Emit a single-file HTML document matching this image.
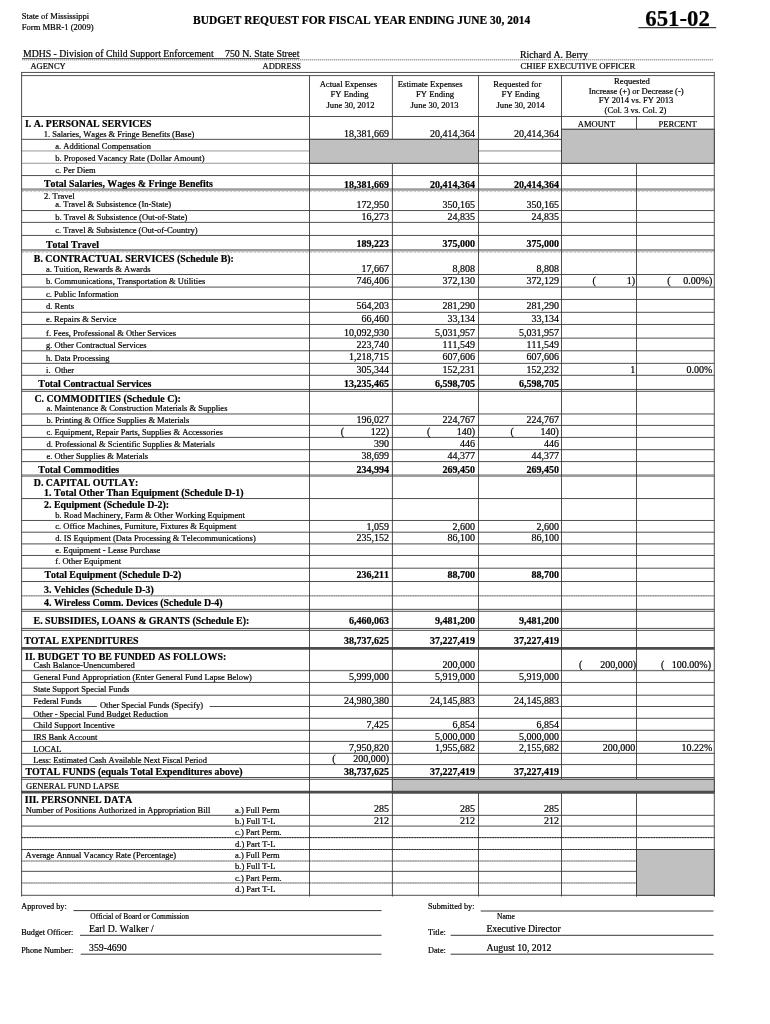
<!DOCTYPE html>
<html><head><meta charset="utf-8"><title>Budget Request</title>
<style>
html,body{margin:0;padding:0;background:#fff;}
#pg{will-change:transform;position:relative;width:770px;height:1024px;overflow:hidden;background:#fff;font-family:"Liberation Serif",serif;color:#111;}
#pg svg{position:absolute;left:0;top:0;}
#pg span{position:absolute;white-space:pre;line-height:1;font-kerning:none;-webkit-text-stroke:0.2px #000;color:#000;}
</style></head><body>
<div id="pg">
<svg width="770" height="1024" viewBox="0 0 770 1024">
<line x1="21.6" y1="72.45" x2="714.3" y2="72.45" stroke="#383838" stroke-width="0.88"/>
<line x1="21.6" y1="75.58" x2="714.3" y2="75.58" stroke="#383838" stroke-width="0.88"/>
<line x1="21.6" y1="116.5" x2="714.3" y2="116.5" stroke="#383838" stroke-width="0.88"/>
<line x1="21.6" y1="139.33" x2="714.3" y2="139.33" stroke="#383838" stroke-width="0.88"/>
<line x1="21.6" y1="175.55" x2="714.3" y2="175.55" stroke="#383838" stroke-width="0.88"/>
<line x1="21.6" y1="189.5" x2="714.3" y2="189.5" stroke="#9c9c9c" stroke-width="2.4"/>
<line x1="21.6" y1="191.6" x2="714.3" y2="191.6" stroke="#b4b4b4" stroke-width="0.7" stroke-dasharray="2.5 1.5"/>
<line x1="21.6" y1="210.55" x2="714.3" y2="210.55" stroke="#383838" stroke-width="0.88"/>
<line x1="21.6" y1="222.39" x2="714.3" y2="222.39" stroke="#383838" stroke-width="0.88"/>
<line x1="21.6" y1="235.44" x2="714.3" y2="235.44" stroke="#383838" stroke-width="0.88"/>
<line x1="21.6" y1="250.3" x2="714.3" y2="250.3" stroke="#9c9c9c" stroke-width="2.4"/>
<line x1="21.6" y1="252.4" x2="714.3" y2="252.4" stroke="#b4b4b4" stroke-width="0.7" stroke-dasharray="2.5 1.5"/>
<line x1="21.6" y1="274.5" x2="714.3" y2="274.5" stroke="#383838" stroke-width="0.88"/>
<line x1="21.6" y1="287.1" x2="714.3" y2="287.1" stroke="#383838" stroke-width="0.88"/>
<line x1="21.6" y1="299.45" x2="714.3" y2="299.45" stroke="#383838" stroke-width="0.88"/>
<line x1="21.6" y1="312.3" x2="714.3" y2="312.3" stroke="#383838" stroke-width="0.88"/>
<line x1="21.6" y1="324.47" x2="714.3" y2="324.47" stroke="#383838" stroke-width="0.88"/>
<line x1="21.6" y1="338.14" x2="714.3" y2="338.14" stroke="#383838" stroke-width="0.88"/>
<line x1="21.6" y1="350.8" x2="714.3" y2="350.8" stroke="#383838" stroke-width="0.88"/>
<line x1="21.6" y1="363.35" x2="714.3" y2="363.35" stroke="#383838" stroke-width="0.88"/>
<line x1="21.6" y1="375.3" x2="714.3" y2="375.3" stroke="#383838" stroke-width="0.88"/>
<line x1="21.6" y1="389.44" x2="714.3" y2="389.44" stroke="#383838" stroke-width="0.88"/>
<line x1="21.6" y1="391.3" x2="714.3" y2="391.3" stroke="#383838" stroke-width="0.88"/>
<line x1="21.6" y1="413.97" x2="714.3" y2="413.97" stroke="#383838" stroke-width="0.88"/>
<line x1="21.6" y1="425.4" x2="714.3" y2="425.4" stroke="#383838" stroke-width="0.88"/>
<line x1="21.6" y1="437.4" x2="714.3" y2="437.4" stroke="#383838" stroke-width="0.88"/>
<line x1="21.6" y1="449.7" x2="714.3" y2="449.7" stroke="#383838" stroke-width="0.88"/>
<line x1="21.6" y1="461.6" x2="714.3" y2="461.6" stroke="#383838" stroke-width="0.88"/>
<line x1="21.6" y1="475.6" x2="714.3" y2="475.6" stroke="#9c9c9c" stroke-width="2.8"/>
<line x1="21.6" y1="498.55" x2="714.3" y2="498.55" stroke="#383838" stroke-width="0.88"/>
<line x1="21.6" y1="520.47" x2="714.3" y2="520.47" stroke="#383838" stroke-width="0.88"/>
<line x1="21.6" y1="532.2" x2="714.3" y2="532.2" stroke="#383838" stroke-width="0.88"/>
<line x1="21.6" y1="543.9" x2="714.3" y2="543.9" stroke="#383838" stroke-width="0.88"/>
<line x1="21.6" y1="555.47" x2="714.3" y2="555.47" stroke="#383838" stroke-width="0.88"/>
<line x1="21.6" y1="568.2" x2="714.3" y2="568.2" stroke="#383838" stroke-width="0.88"/>
<line x1="21.6" y1="581.53" x2="714.3" y2="581.53" stroke="#383838" stroke-width="0.88"/>
<line x1="21.6" y1="595.83" x2="714.3" y2="595.83" stroke="#b4b4b4" stroke-width="1.5"/>
<line x1="21.6" y1="595.83" x2="714.3" y2="595.83" stroke="#909090" stroke-width="1.0" stroke-dasharray="1.2 1.2"/>
<line x1="21.6" y1="609.34" x2="714.3" y2="609.34" stroke="#383838" stroke-width="0.88"/>
<line x1="21.6" y1="611.25" x2="714.3" y2="611.25" stroke="#383838" stroke-width="0.88"/>
<line x1="21.6" y1="628.4" x2="714.3" y2="628.4" stroke="#383838" stroke-width="0.88"/>
<line x1="21.6" y1="630.36" x2="714.3" y2="630.36" stroke="#383838" stroke-width="0.88"/>
<line x1="21.6" y1="648.4" x2="714.3" y2="648.4" stroke="#4c4c4c" stroke-width="2.6"/>
<line x1="21.6" y1="670.7" x2="714.3" y2="670.7" stroke="#505050" stroke-width="1.0"/>
<line x1="21.6" y1="669.7" x2="714.3" y2="669.7" stroke="#c8c8c8" stroke-width="0.6" stroke-dasharray="1 1"/>
<line x1="21.6" y1="682.44" x2="714.3" y2="682.44" stroke="#383838" stroke-width="0.88"/>
<line x1="21.6" y1="695.2" x2="714.3" y2="695.2" stroke="#383838" stroke-width="0.88"/>
<line x1="21.6" y1="718.27" x2="714.3" y2="718.27" stroke="#383838" stroke-width="0.88"/>
<line x1="21.6" y1="730.3" x2="714.3" y2="730.3" stroke="#505050" stroke-width="1.0"/>
<line x1="21.6" y1="729.3" x2="714.3" y2="729.3" stroke="#c8c8c8" stroke-width="0.6" stroke-dasharray="1 1"/>
<line x1="21.6" y1="741.4" x2="714.3" y2="741.4" stroke="#383838" stroke-width="0.88"/>
<line x1="21.6" y1="753.34" x2="714.3" y2="753.34" stroke="#383838" stroke-width="0.88"/>
<line x1="21.6" y1="764.6" x2="714.3" y2="764.6" stroke="#383838" stroke-width="0.88"/>
<line x1="21.6" y1="777.5" x2="714.3" y2="777.5" stroke="#383838" stroke-width="0.88"/>
<line x1="21.6" y1="779.3" x2="714.3" y2="779.3" stroke="#383838" stroke-width="0.88"/>
<line x1="21.6" y1="792.15" x2="714.3" y2="792.15" stroke="#4c4c4c" stroke-width="2.6"/>
<line x1="21.6" y1="815.34" x2="714.3" y2="815.34" stroke="#383838" stroke-width="0.88"/>
<line x1="21.6" y1="826.1" x2="714.3" y2="826.1" stroke="#383838" stroke-width="0.88"/>
<line x1="21.6" y1="837.6" x2="714.3" y2="837.6" stroke="#7a7a7a" stroke-width="1.0"/>
<line x1="21.6" y1="837.6" x2="714.3" y2="837.6" stroke="#2a2a2a" stroke-width="1.0" stroke-dasharray="1.6 1.0"/>
<line x1="21.6" y1="849.5" x2="714.3" y2="849.5" stroke="#7a7a7a" stroke-width="1.0"/>
<line x1="21.6" y1="849.5" x2="714.3" y2="849.5" stroke="#2a2a2a" stroke-width="1.0" stroke-dasharray="1.6 1.0"/>
<line x1="21.6" y1="861.0" x2="714.3" y2="861.0" stroke="#b4b4b4" stroke-width="1.5"/>
<line x1="21.6" y1="861.0" x2="714.3" y2="861.0" stroke="#909090" stroke-width="1.0" stroke-dasharray="1.2 1.2"/>
<line x1="21.6" y1="871.33" x2="714.3" y2="871.33" stroke="#383838" stroke-width="0.88"/>
<line x1="21.6" y1="882.97" x2="714.3" y2="882.97" stroke="#b4b4b4" stroke-width="1.5"/>
<line x1="21.6" y1="882.97" x2="714.3" y2="882.97" stroke="#909090" stroke-width="1.0" stroke-dasharray="1.2 1.2"/>
<line x1="21.6" y1="895.3" x2="714.3" y2="895.3" stroke="#383838" stroke-width="0.88"/>
<line x1="309.5" y1="706.5" x2="714.3" y2="706.5" stroke="#505050" stroke-width="1.0"/>
<line x1="21.6" y1="706.5" x2="96.8" y2="706.5" stroke="#505050" stroke-width="1.0"/>
<line x1="209.6" y1="706.5" x2="309.5" y2="706.5" stroke="#505050" stroke-width="1.0"/>
<line x1="21.6" y1="150.94" x2="309.5" y2="150.94" stroke="#8a8a8a" stroke-width="0.88"/>
<line x1="21.6" y1="163.28" x2="309.5" y2="163.28" stroke="#8a8a8a" stroke-width="0.88"/>
<line x1="309.5" y1="163.28" x2="714.3" y2="163.28" stroke="#383838" stroke-width="0.88"/>
<line x1="478.5" y1="150.94" x2="561.5" y2="150.94" stroke="#777" stroke-width="0.88"/>
<line x1="561.5" y1="129.3" x2="714.3" y2="129.3" stroke="#383838" stroke-width="0.88"/>
<line x1="21.6" y1="71.95" x2="21.6" y2="896.5" stroke="#383838" stroke-width="0.88"/>
<line x1="714.3" y1="71.95" x2="714.3" y2="896.5" stroke="#383838" stroke-width="0.88"/>
<line x1="309.5" y1="75.58" x2="309.5" y2="896.5" stroke="#383838" stroke-width="0.88"/>
<line x1="392.4" y1="75.58" x2="392.4" y2="896.5" stroke="#383838" stroke-width="0.88"/>
<line x1="478.5" y1="75.58" x2="478.5" y2="896.5" stroke="#383838" stroke-width="0.88"/>
<line x1="561.5" y1="75.58" x2="561.5" y2="896.5" stroke="#383838" stroke-width="0.88"/>
<line x1="636.5" y1="116.5" x2="636.5" y2="896.5" stroke="#383838" stroke-width="0.88"/>
<line x1="22" y1="58.6" x2="299.5" y2="58.6" stroke="#333" stroke-width="0.9"/>
<line x1="22" y1="59.8" x2="713" y2="59.8" stroke="#d0d0d0" stroke-width="1.0"/>
<line x1="22" y1="59.8" x2="713" y2="59.8" stroke="#909090" stroke-width="1.0" stroke-dasharray="1 1"/>
<line x1="638.3" y1="27.7" x2="716.2" y2="27.7" stroke="#3c3c3c" stroke-width="1.3"/>
<line x1="73.4" y1="910.6" x2="381.5" y2="910.6" stroke="#383838" stroke-width="1.0"/>
<line x1="80" y1="935.3" x2="381.5" y2="935.3" stroke="#383838" stroke-width="1.0"/>
<line x1="80.7" y1="954.2" x2="381.5" y2="954.2" stroke="#383838" stroke-width="1.0"/>
<line x1="480.7" y1="911.0" x2="713.5" y2="911.0" stroke="#383838" stroke-width="1.0"/>
<line x1="450.6" y1="935.3" x2="713.5" y2="935.3" stroke="#383838" stroke-width="1.0"/>
<line x1="450.6" y1="954.2" x2="713.5" y2="954.2" stroke="#383838" stroke-width="1.0"/>
<rect x="309.5" y="139.33" width="169.0" height="23.95" fill="#c0c0c0"/>
<rect x="561.5" y="129.3" width="152.79999999999995" height="33.98" fill="#c0c0c0"/>
<rect x="392.4" y="779.3" width="321.9" height="12.8" fill="#c0c0c0"/>
<rect x="636.5" y="849.5" width="77.79999999999995" height="45.8" fill="#c0c0c0"/>
<line x1="309.5" y1="139.33" x2="478.5" y2="139.33" stroke="#383838" stroke-width="0.88"/>
<line x1="309.5" y1="163.28" x2="478.5" y2="163.28" stroke="#383838" stroke-width="0.88"/>
<line x1="478.5" y1="139.33" x2="478.5" y2="163.28" stroke="#383838" stroke-width="0.88"/>
<line x1="309.5" y1="139.33" x2="309.5" y2="163.28" stroke="#383838" stroke-width="0.88"/>
<line x1="561.5" y1="129.3" x2="714.3" y2="129.3" stroke="#383838" stroke-width="0.88"/>
<line x1="561.5" y1="163.28" x2="714.3" y2="163.28" stroke="#383838" stroke-width="0.88"/>
<line x1="561.5" y1="129.3" x2="561.5" y2="163.28" stroke="#383838" stroke-width="0.88"/>
<line x1="714.3" y1="129.3" x2="714.3" y2="163.28" stroke="#383838" stroke-width="0.88"/>
<line x1="392.4" y1="779.3" x2="714.3" y2="779.3" stroke="#383838" stroke-width="0.88"/>
<line x1="392.4" y1="792.15" x2="714.3" y2="792.15" stroke="#4c4c4c" stroke-width="2.6"/>
<line x1="392.4" y1="779.3" x2="392.4" y2="792" stroke="#383838" stroke-width="0.88"/>
<line x1="714.3" y1="779.3" x2="714.3" y2="792" stroke="#383838" stroke-width="0.88"/>
<line x1="636.5" y1="849.5" x2="714.3" y2="849.5" stroke="#383838" stroke-width="0.88"/>
<line x1="636.5" y1="895.3" x2="714.3" y2="895.3" stroke="#383838" stroke-width="0.88"/>
<line x1="636.5" y1="849.5" x2="636.5" y2="896.5" stroke="#383838" stroke-width="0.88"/>
<line x1="714.3" y1="849.5" x2="714.3" y2="896.5" stroke="#383838" stroke-width="0.88"/>
</svg>
<span style="top:12px;font-size:8.55px;left:21.80px;">State of Mississippi</span>
<span style="top:23px;font-size:8.55px;left:21.80px;">Form MBR-1 (2009)</span>
<span style="top:15px;font-size:11.45px;font-weight:bold;left:193.00px;">BUDGET REQUEST FOR FISCAL YEAR ENDING JUNE 30, 2014</span>
<span style="top:8px;font-size:22.8px;font-weight:bold;left:645.30px;">651-02</span>
<span style="top:49px;font-size:9.75px;left:23.00px;">MDHS - Division of Child Support Enforcement</span>
<span style="top:49px;font-size:9.85px;left:225.00px;">750 N. State Street</span>
<span style="top:50px;font-size:9.85px;left:519.90px;">Richard A. Berry</span>
<span style="top:62px;font-size:8.45px;left:30.50px;">AGENCY</span>
<span style="top:62px;font-size:8.45px;left:262.60px;">ADDRESS</span>
<span style="top:62px;font-size:8.75px;left:520.50px;">CHIEF EXECUTIVE OFFICER</span>
<span style="top:80px;font-size:8.6px;left:148.40px;width:400px;text-align:center;">Actual Expenses</span>
<span style="top:90px;font-size:8.6px;left:149.50px;width:400px;text-align:center;">FY Ending</span>
<span style="top:101px;font-size:8.6px;left:150.50px;width:400px;text-align:center;">June 30, 2012</span>
<span style="top:80px;font-size:8.6px;left:230.20px;width:400px;text-align:center;">Estimate Expenses</span>
<span style="top:90px;font-size:8.6px;left:235.00px;width:400px;text-align:center;">FY Ending</span>
<span style="top:101px;font-size:8.6px;left:234.50px;width:400px;text-align:center;">June 30, 2013</span>
<span style="top:80px;font-size:8.6px;left:317.30px;width:400px;text-align:center;">Requested for</span>
<span style="top:90px;font-size:8.6px;left:320.60px;width:400px;text-align:center;">FY Ending</span>
<span style="top:101px;font-size:8.6px;left:320.50px;width:400px;text-align:center;">June 30, 2014</span>
<span style="top:77px;font-size:8.6px;left:432.00px;width:400px;text-align:center;">Requested</span>
<span style="top:87px;font-size:8.6px;left:436.20px;width:400px;text-align:center;">Increase (+) or Decrease (-)</span>
<span style="top:96px;font-size:8.6px;left:436.00px;width:400px;text-align:center;">FY 2014 vs. FY 2013</span>
<span style="top:106px;font-size:8.6px;left:435.50px;width:400px;text-align:center;">(Col. 3 vs. Col. 2)</span>
<span style="top:120px;font-size:8.5px;left:577.80px;">AMOUNT</span>
<span style="top:120px;font-size:8.6px;left:658.60px;">PERCENT</span>
<span style="top:119px;font-size:9.9px;font-weight:bold;left:25.00px;">I. A. PERSONAL SERVICES</span>
<span style="top:130px;font-size:8.5px;left:43.70px;">1. Salaries, Wages &amp; Fringe Benefits (Base)</span>
<span style="top:142px;font-size:8.5px;left:55.30px;">a. Additional Compensation</span>
<span style="top:154px;font-size:8.5px;left:55.30px;">b. Proposed Vacancy Rate (Dollar Amount)</span>
<span style="top:166px;font-size:8.5px;left:55.30px;">c. Per Diem</span>
<span style="top:179px;font-size:9.9px;font-weight:bold;left:44.00px;">Total Salaries, Wages &amp; Fringe Benefits</span>
<span style="top:192px;font-size:8.5px;left:44.00px;">2. Travel</span>
<span style="top:200px;font-size:8.5px;left:55.30px;">a. Travel &amp; Subsistence (In-State)</span>
<span style="top:213px;font-size:8.5px;left:55.30px;">b. Travel &amp; Subsistence (Out-of-State)</span>
<span style="top:226px;font-size:8.5px;left:55.30px;">c. Travel &amp; Subsistence (Out-of-Country)</span>
<span style="top:240px;font-size:9.9px;font-weight:bold;left:46.00px;">Total Travel</span>
<span style="top:254px;font-size:9.9px;font-weight:bold;left:33.80px;">B. CONTRACTUAL SERVICES (Schedule B):</span>
<span style="top:265px;font-size:8.5px;left:46.10px;">a. Tuition, Rewards &amp; Awards</span>
<span style="top:277px;font-size:8.5px;left:46.10px;">b. Communications, Transportation &amp; Utilities</span>
<span style="top:290px;font-size:8.5px;left:46.10px;">c. Public Information</span>
<span style="top:302px;font-size:8.5px;left:46.10px;">d. Rents</span>
<span style="top:315px;font-size:8.5px;left:46.10px;">e. Repairs &amp; Service</span>
<span style="top:329px;font-size:8.5px;left:46.10px;">f. Fees, Professional &amp; Other Services</span>
<span style="top:341px;font-size:8.5px;left:46.10px;">g. Other Contractual Services</span>
<span style="top:354px;font-size:8.5px;left:46.10px;">h. Data Processing</span>
<span style="top:366px;font-size:8.5px;left:46.10px;">i.  Other</span>
<span style="top:379px;font-size:9.9px;font-weight:bold;left:38.30px;">Total Contractual Services</span>
<span style="top:394px;font-size:9.9px;font-weight:bold;left:34.40px;">C. COMMODITIES (Schedule C):</span>
<span style="top:404px;font-size:8.5px;left:46.40px;">a. Maintenance &amp; Construction Materials &amp; Supplies</span>
<span style="top:416px;font-size:8.5px;left:46.40px;">b. Printing &amp; Office Supplies &amp; Materials</span>
<span style="top:428px;font-size:8.5px;left:46.40px;">c. Equipment, Repair Parts, Supplies &amp; Accessories</span>
<span style="top:440px;font-size:8.5px;left:46.40px;">d. Professional &amp; Scientific Supplies &amp; Materials</span>
<span style="top:452px;font-size:8.5px;left:46.40px;">e. Other Supplies &amp; Materials</span>
<span style="top:465px;font-size:9.9px;font-weight:bold;left:38.30px;">Total Commodities</span>
<span style="top:478px;font-size:9.9px;font-weight:bold;left:33.80px;">D. CAPITAL OUTLAY:</span>
<span style="top:488px;font-size:9.9px;font-weight:bold;left:44.00px;">1. Total Other Than Equipment (Schedule D-1)</span>
<span style="top:500px;font-size:9.9px;font-weight:bold;left:44.00px;">2. Equipment (Schedule D-2):</span>
<span style="top:511px;font-size:8.5px;left:55.30px;">b. Road Machinery, Farm &amp; Other Working Equipment</span>
<span style="top:522px;font-size:8.5px;left:55.30px;">c. Office Machines, Furniture, Fixtures &amp; Equipment</span>
<span style="top:534px;font-size:8.5px;left:55.30px;">d. IS Equipment (Data Processing &amp; Telecommunications)</span>
<span style="top:546px;font-size:8.5px;left:55.30px;">e. Equipment - Lease Purchase</span>
<span style="top:557px;font-size:8.5px;left:55.30px;">f. Other Equipment</span>
<span style="top:570px;font-size:9.9px;font-weight:bold;left:44.40px;">Total Equipment (Schedule D-2)</span>
<span style="top:585px;font-size:9.9px;font-weight:bold;left:44.00px;">3. Vehicles (Schedule D-3)</span>
<span style="top:598px;font-size:9.9px;font-weight:bold;left:44.00px;">4. Wireless Comm. Devices (Schedule D-4)</span>
<span style="top:616px;font-size:9.9px;font-weight:bold;left:33.60px;">E. SUBSIDIES, LOANS &amp; GRANTS (Schedule E):</span>
<span style="top:636px;font-size:9.9px;font-weight:bold;left:24.20px;">TOTAL EXPENDITURES</span>
<span style="top:652px;font-size:9.9px;font-weight:bold;left:25.10px;">II. BUDGET TO BE FUNDED AS FOLLOWS:</span>
<span style="top:661px;font-size:8.5px;left:33.60px;">Cash Balance-Unencumbered</span>
<span style="top:673px;font-size:8.5px;left:33.60px;">General Fund Appropriation (Enter General Fund Lapse Below)</span>
<span style="top:685px;font-size:8.5px;left:33.20px;">State Support Special Funds</span>
<span style="top:697px;font-size:8.5px;left:33.20px;">Federal Funds</span>
<span style="top:701px;font-size:8.5px;left:99.90px;">Other Special Funds (Specify)</span>
<span style="top:710px;font-size:8.5px;left:33.20px;">Other - Special Fund Budget Reduction</span>
<span style="top:721px;font-size:8.5px;left:33.20px;">Child Support Incentive</span>
<span style="top:733px;font-size:8.5px;left:33.20px;">IRS Bank Account</span>
<span style="top:745px;font-size:8.5px;left:33.20px;">LOCAL</span>
<span style="top:756px;font-size:8.5px;left:33.20px;">Less: Estimated Cash Available Next Fiscal Period</span>
<span style="top:767px;font-size:9.9px;font-weight:bold;left:25.50px;">TOTAL FUNDS (equals Total Expenditures above)</span>
<span style="top:782px;font-size:8.5px;left:26.00px;">GENERAL FUND LAPSE</span>
<span style="top:795px;font-size:9.9px;font-weight:bold;left:24.80px;">III. PERSONNEL DATA</span>
<span style="top:806px;font-size:8.5px;left:25.70px;">Number of Positions Authorized in Appropriation Bill</span>
<span style="top:806px;font-size:8.5px;left:235.00px;">a.) Full Perm</span>
<span style="top:817px;font-size:8.5px;left:235.00px;">b.) Full T-L</span>
<span style="top:828px;font-size:8.5px;left:235.00px;">c.) Part Perm.</span>
<span style="top:840px;font-size:8.5px;left:235.00px;">d.) Part T-L</span>
<span style="top:851px;font-size:8.5px;left:25.50px;">Average Annual Vacancy Rate (Percentage)</span>
<span style="top:851px;font-size:8.5px;left:235.00px;">a.) Full Perm</span>
<span style="top:862px;font-size:8.5px;left:235.00px;">b.) Full T-L</span>
<span style="top:874px;font-size:8.5px;left:235.00px;">c.) Part Perm.</span>
<span style="top:885px;font-size:8.5px;left:235.00px;">d.) Part T-L</span>
<span style="top:129px;font-size:10.0px;right:380.90px;">18,381,669</span>
<span style="top:129px;font-size:10.0px;right:295.00px;">20,414,364</span>
<span style="top:129px;font-size:10.0px;right:211.10px;">20,414,364</span>
<span style="top:180px;font-size:10.0px;font-weight:bold;right:380.90px;">18,381,669</span>
<span style="top:180px;font-size:10.0px;font-weight:bold;right:295.00px;">20,414,364</span>
<span style="top:180px;font-size:10.0px;font-weight:bold;right:211.10px;">20,414,364</span>
<span style="top:200px;font-size:10.0px;right:380.90px;">172,950</span>
<span style="top:200px;font-size:10.0px;right:295.00px;">350,165</span>
<span style="top:200px;font-size:10.0px;right:211.10px;">350,165</span>
<span style="top:212px;font-size:10.0px;right:380.90px;">16,273</span>
<span style="top:212px;font-size:10.0px;right:295.00px;">24,835</span>
<span style="top:212px;font-size:10.0px;right:211.10px;">24,835</span>
<span style="top:239px;font-size:10.0px;font-weight:bold;right:380.90px;">189,223</span>
<span style="top:239px;font-size:10.0px;font-weight:bold;right:295.00px;">375,000</span>
<span style="top:239px;font-size:10.0px;font-weight:bold;right:211.10px;">375,000</span>
<span style="top:264px;font-size:10.0px;right:380.90px;">17,667</span>
<span style="top:264px;font-size:10.0px;right:295.00px;">8,808</span>
<span style="top:264px;font-size:10.0px;right:211.10px;">8,808</span>
<span style="top:276px;font-size:10.0px;right:380.90px;">746,406</span>
<span style="top:276px;font-size:10.0px;right:295.00px;">372,130</span>
<span style="top:276px;font-size:10.0px;right:211.10px;">372,129</span>
<span style="top:276px;font-size:10.0px;right:134.80px;">1)</span>
<span style="top:276px;font-size:10.0px;right:57.60px;">0.00%)</span>
<span style="top:301px;font-size:10.0px;right:380.90px;">564,203</span>
<span style="top:301px;font-size:10.0px;right:295.00px;">281,290</span>
<span style="top:301px;font-size:10.0px;right:211.10px;">281,290</span>
<span style="top:314px;font-size:10.0px;right:380.90px;">66,460</span>
<span style="top:314px;font-size:10.0px;right:295.00px;">33,134</span>
<span style="top:314px;font-size:10.0px;right:211.10px;">33,134</span>
<span style="top:328px;font-size:10.0px;right:380.90px;">10,092,930</span>
<span style="top:328px;font-size:10.0px;right:295.00px;">5,031,957</span>
<span style="top:328px;font-size:10.0px;right:211.10px;">5,031,957</span>
<span style="top:340px;font-size:10.0px;right:380.90px;">223,740</span>
<span style="top:340px;font-size:10.0px;right:295.00px;">111,549</span>
<span style="top:340px;font-size:10.0px;right:211.10px;">111,549</span>
<span style="top:352px;font-size:10.0px;right:380.90px;">1,218,715</span>
<span style="top:352px;font-size:10.0px;right:295.00px;">607,606</span>
<span style="top:352px;font-size:10.0px;right:211.10px;">607,606</span>
<span style="top:365px;font-size:10.0px;right:380.90px;">305,344</span>
<span style="top:365px;font-size:10.0px;right:295.00px;">152,231</span>
<span style="top:365px;font-size:10.0px;right:211.10px;">152,232</span>
<span style="top:365px;font-size:10.0px;right:134.80px;">1</span>
<span style="top:365px;font-size:10.0px;right:57.60px;">0.00%</span>
<span style="top:379px;font-size:10.0px;font-weight:bold;right:380.90px;">13,235,465</span>
<span style="top:379px;font-size:10.0px;font-weight:bold;right:295.00px;">6,598,705</span>
<span style="top:379px;font-size:10.0px;font-weight:bold;right:211.10px;">6,598,705</span>
<span style="top:415px;font-size:10.0px;right:380.90px;">196,027</span>
<span style="top:415px;font-size:10.0px;right:295.00px;">224,767</span>
<span style="top:415px;font-size:10.0px;right:211.10px;">224,767</span>
<span style="top:427px;font-size:10.0px;right:380.90px;">122)</span>
<span style="top:427px;font-size:10.0px;right:295.00px;">140)</span>
<span style="top:427px;font-size:10.0px;right:211.10px;">140)</span>
<span style="top:439px;font-size:10.0px;right:380.90px;">390</span>
<span style="top:439px;font-size:10.0px;right:295.00px;">446</span>
<span style="top:439px;font-size:10.0px;right:211.10px;">446</span>
<span style="top:451px;font-size:10.0px;right:380.90px;">38,699</span>
<span style="top:451px;font-size:10.0px;right:295.00px;">44,377</span>
<span style="top:451px;font-size:10.0px;right:211.10px;">44,377</span>
<span style="top:465px;font-size:10.0px;font-weight:bold;right:380.90px;">234,994</span>
<span style="top:465px;font-size:10.0px;font-weight:bold;right:295.00px;">269,450</span>
<span style="top:465px;font-size:10.0px;font-weight:bold;right:211.10px;">269,450</span>
<span style="top:522px;font-size:10.0px;right:380.90px;">1,059</span>
<span style="top:522px;font-size:10.0px;right:295.00px;">2,600</span>
<span style="top:522px;font-size:10.0px;right:211.10px;">2,600</span>
<span style="top:533px;font-size:10.0px;right:380.90px;">235,152</span>
<span style="top:533px;font-size:10.0px;right:295.00px;">86,100</span>
<span style="top:533px;font-size:10.0px;right:211.10px;">86,100</span>
<span style="top:570px;font-size:10.0px;font-weight:bold;right:380.90px;">236,211</span>
<span style="top:570px;font-size:10.0px;font-weight:bold;right:295.00px;">88,700</span>
<span style="top:570px;font-size:10.0px;font-weight:bold;right:211.10px;">88,700</span>
<span style="top:616px;font-size:10.0px;font-weight:bold;right:380.90px;">6,460,063</span>
<span style="top:616px;font-size:10.0px;font-weight:bold;right:295.00px;">9,481,200</span>
<span style="top:616px;font-size:10.0px;font-weight:bold;right:211.10px;">9,481,200</span>
<span style="top:636px;font-size:10.0px;font-weight:bold;right:380.90px;">38,737,625</span>
<span style="top:636px;font-size:10.0px;font-weight:bold;right:295.00px;">37,227,419</span>
<span style="top:636px;font-size:10.0px;font-weight:bold;right:211.10px;">37,227,419</span>
<span style="top:660px;font-size:10.0px;right:295.00px;">200,000</span>
<span style="top:672px;font-size:10.0px;right:380.90px;">5,999,000</span>
<span style="top:672px;font-size:10.0px;right:295.00px;">5,919,000</span>
<span style="top:672px;font-size:10.0px;right:211.10px;">5,919,000</span>
<span style="top:696px;font-size:10.0px;right:380.90px;">24,980,380</span>
<span style="top:696px;font-size:10.0px;right:295.00px;">24,145,883</span>
<span style="top:696px;font-size:10.0px;right:211.10px;">24,145,883</span>
<span style="top:720px;font-size:10.0px;right:380.90px;">7,425</span>
<span style="top:720px;font-size:10.0px;right:295.00px;">6,854</span>
<span style="top:720px;font-size:10.0px;right:211.10px;">6,854</span>
<span style="top:732px;font-size:10.0px;right:295.00px;">5,000,000</span>
<span style="top:732px;font-size:10.0px;right:211.10px;">5,000,000</span>
<span style="top:743px;font-size:10.0px;right:380.90px;">7,950,820</span>
<span style="top:743px;font-size:10.0px;right:295.00px;">1,955,682</span>
<span style="top:743px;font-size:10.0px;right:211.10px;">2,155,682</span>
<span style="top:743px;font-size:10.0px;right:134.80px;">200,000</span>
<span style="top:743px;font-size:10.0px;right:57.60px;">10.22%</span>
<span style="top:754px;font-size:10.0px;right:380.90px;">200,000)</span>
<span style="top:767px;font-size:10.0px;font-weight:bold;right:380.90px;">38,737,625</span>
<span style="top:767px;font-size:10.0px;font-weight:bold;right:295.00px;">37,227,419</span>
<span style="top:767px;font-size:10.0px;font-weight:bold;right:211.10px;">37,227,419</span>
<span style="top:804px;font-size:10.0px;right:380.90px;">285</span>
<span style="top:804px;font-size:10.0px;right:295.00px;">285</span>
<span style="top:804px;font-size:10.0px;right:211.10px;">285</span>
<span style="top:816px;font-size:10.0px;right:380.90px;">212</span>
<span style="top:816px;font-size:10.0px;right:295.00px;">212</span>
<span style="top:816px;font-size:10.0px;right:211.10px;">212</span>
<span style="top:660px;font-size:10.0px;right:133.80px;">200,000)</span>
<span style="top:660px;font-size:10.0px;right:59.00px;">100.00%)</span>
<span style="top:427px;font-size:10.0px;left:340.80px;">(</span>
<span style="top:427px;font-size:10.0px;left:427.00px;">(</span>
<span style="top:427px;font-size:10.0px;left:510.60px;">(</span>
<span style="top:276px;font-size:10.0px;left:592.40px;">(</span>
<span style="top:276px;font-size:10.0px;left:667.20px;">(</span>
<span style="top:660px;font-size:10.0px;left:579.00px;">(</span>
<span style="top:660px;font-size:10.0px;left:661.00px;">(</span>
<span style="top:754px;font-size:10.0px;left:332.30px;">(</span>
<span style="top:903px;font-size:8.25px;left:21.20px;">Approved by:</span>
<span style="top:913px;font-size:7.45px;left:90.30px;">Official of Board or Commission</span>
<span style="top:929px;font-size:8.25px;left:21.20px;">Budget Officer:</span>
<span style="top:924px;font-size:9.8px;left:89.00px;">Earl D. Walker /</span>
<span style="top:947px;font-size:8.25px;left:21.20px;">Phone Number:</span>
<span style="top:943px;font-size:9.8px;left:89.00px;">359-4690</span>
<span style="top:903px;font-size:8.25px;left:428.00px;">Submitted by:</span>
<span style="top:913px;font-size:7.45px;left:497.10px;">Name</span>
<span style="top:929px;font-size:8.25px;left:428.00px;">Title:</span>
<span style="top:924px;font-size:9.8px;left:486.40px;">Executive Director</span>
<span style="top:947px;font-size:8.25px;left:428.00px;">Date:</span>
<span style="top:943px;font-size:9.8px;left:486.40px;">August 10, 2012</span>
</div>
</body></html>
